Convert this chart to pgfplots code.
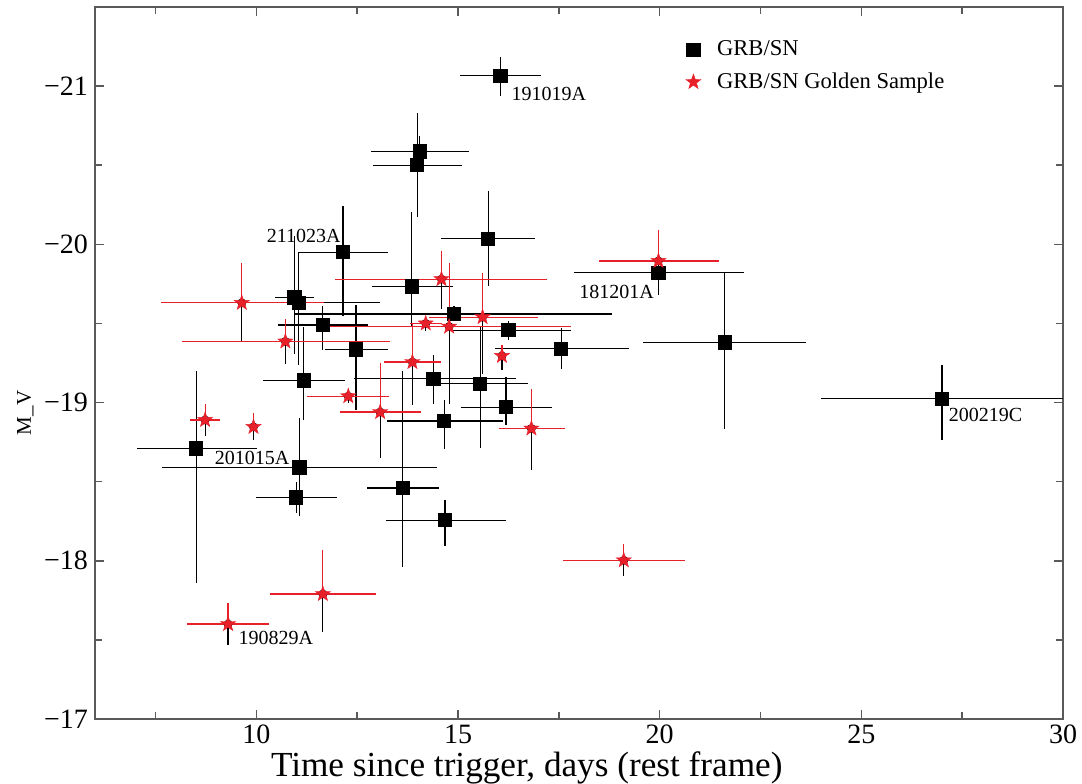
\documentclass[border=0pt]{standalone}
\usepackage{fontspec}
\setmainfont{Liberation Serif}
\usepackage{pgfplots}
\pgfplotsset{compat=1.18}
\usepackage{pgfplotstable}
\definecolor{gsred}{RGB}{232,32,42}
\definecolor{axgray}{RGB}{90,90,90}

\pgfdeclareplotmark{fstar}{%
  \pgfpathmoveto{\pgfpointpolar{90}{\pgfplotmarksize}}%
  \pgfpathlineto{\pgfpointpolar{126}{0.40\pgfplotmarksize}}%
  \pgfpathlineto{\pgfpointpolar{162}{\pgfplotmarksize}}%
  \pgfpathlineto{\pgfpointpolar{198}{0.40\pgfplotmarksize}}%
  \pgfpathlineto{\pgfpointpolar{234}{\pgfplotmarksize}}%
  \pgfpathlineto{\pgfpointpolar{270}{0.40\pgfplotmarksize}}%
  \pgfpathlineto{\pgfpointpolar{306}{\pgfplotmarksize}}%
  \pgfpathlineto{\pgfpointpolar{342}{0.40\pgfplotmarksize}}%
  \pgfpathlineto{\pgfpointpolar{18}{\pgfplotmarksize}}%
  \pgfpathlineto{\pgfpointpolar{54}{0.40\pgfplotmarksize}}%
  \pgfpathclose
  \pgfusepathqfillstroke}

% GRB/SN: x, y, x error minus/plus, y error minus (up)/plus (down)
\pgfplotstableread{
x y exm exp eym eyp
16.05 -21.065 1.00 1.02 0.12 0.13
14.05 -20.587 1.20 1.23 0.10 0.10
13.99 -20.50 1.10 1.10 0.33 0.33
15.75 -20.035 1.16 1.17 0.30 0.30
12.15 -19.95 1.08 1.11 0.29 0.40
10.945 -19.664 0.48 0.49 0.39 0.36
11.05 -19.63 2.00 2.01 0.32 0.39
11.65 -19.49 1.11 1.13 0.12 0.16
13.85 -19.734 0.97 1.02 0.47 0.25
14.90 -19.56 3.95 3.93 0.05 0.04
16.25 -19.457 1.47 1.55 0.06 0.06
12.47 -19.336 0.77 0.80 0.28 0.38
17.56 -19.34 1.65 1.68 0.13 0.13
19.97 -19.82 2.10 2.12 0.10 0.14
21.61 -19.38 2.02 2.02 0.44 0.55
11.17 -19.14 1.00 1.02 0.34 0.25
14.39 -19.15 1.97 2.05 0.15 0.16
15.55 -19.12 1.02 1.19 0.36 0.41
16.19 -18.97 1.12 1.14 0.19 0.11
14.66 -18.884 1.41 1.45 0.13 0.18
8.51 -18.71 1.48 1.51 0.49 0.85
11.07 -18.59 3.40 3.40 0.31 0.31
10.99 -18.40 1.01 1.02 0.10 0.10
13.63 -18.46 0.89 0.89 0.74 0.50
14.68 -18.256 1.47 1.51 0.13 0.16
27.00 -19.025 3.00 3.00 0.21 0.26
}\grbsn

% GRB/SN Golden Sample
\pgfplotstableread{
x y exm exp eym eyp
9.64 -19.63 2.00 2.03 0.25 0.25
10.72 -19.386 2.57 2.60 0.14 0.14
8.73 -18.89 0.37 0.37 0.10 0.10
9.93 -18.846 0.05 0.05 0.085 0.085
14.59 -19.78 2.64 2.62 0.18 0.19
14.20 -19.50 0.40 0.40 0.05 0.05
14.78 -19.48 3.02 3.02 0.40 0.49
15.61 -19.54 1.33 1.38 0.28 0.36
13.87 -19.256 0.70 0.71 0.24 0.27
16.09 -19.295 0.10 0.10 0.07 0.09
12.28 -19.04 1.02 1.01 0.04 0.04
13.07 -18.94 1.00 1.01 0.31 0.29
16.82 -18.836 0.80 0.83 0.25 0.26
19.97 -19.895 1.48 1.51 0.195 0.10
19.11 -18.003 1.50 1.53 0.10 0.10
11.65 -17.79 1.30 1.31 0.28 0.24
9.30 -17.60 1.01 1.01 0.13 0.13
}\golden

\begin{document}
\begin{tikzpicture}
\begin{axis}[
  scale only axis, width=484pt, height=356pt,
  xmin=6, xmax=30, ymin=-21.5, ymax=-17, y dir=reverse,
  xtick={10,15,20,25,30}, minor xtick={7.5,12.5,17.5,22.5,27.5},
  ytick={-21,-20,-19,-18,-17}, yticklabels={−21,−20,−19,−18,−17},
  minor ytick={-20.5,-19.5,-18.5,-17.5},
  tick align=inside, major tick length=4.5pt, minor tick length=3.5pt,
  axis line style={draw=axgray, line width=0.8pt},
  every tick/.style={axgray, line width=0.8pt},
  tick label style={font=\fontsize{14}{16}\selectfont},
  xticklabel style={inner sep=1pt, yshift=-1.8pt},
  /pgf/number format/assume math mode=true,
  xlabel={Time since trigger, days (rest frame)},
  ylabel={M\_V},
  xlabel style={font=\fontsize{17.6}{21}\selectfont, inner sep=0pt, at={(axis description cs:0.446,0)}, anchor=center, yshift=-24.3pt},
  ylabel style={font=\fontsize{10.5}{13}\selectfont, at={(axis description cs:-0.072,0.43)}, anchor=center},
  legend style={draw=none, fill=none, at={(axis cs:20.49,-21.34)}, anchor=north west,
    font=\fontsize{11.3}{13}\selectfont, row sep=3pt, column sep=6pt},
  legend cell align=left,
  clip=false,
]
\addplot[only marks, mark=square*, mark size=3.3pt, black,
  error bars/.cd, x dir=both, x explicit, y dir=both, y explicit, error mark=none,
  error bar style={line width=0.6pt, black}]
  table[x=x, y=y, x error plus=exp, x error minus=exm, y error plus=eyp, y error minus=eym]{\grbsn};
\addlegendentry{GRB/SN}
\addplot[forget plot, only marks, mark=none, black,
  error bars/.cd, y dir=plus, y explicit, error mark=none,
  error bar style={line width=0.6pt, black}]
  table[x=x, y=y, y error plus=eyp, y error minus=eym]{\golden};
\addplot[only marks, mark=fstar, mark size=4pt, gsred, mark options={fill=gsred, draw=gsred, line width=0.2pt},
  error bars/.cd, x dir=both, x explicit, y dir=minus, y explicit, error mark=none,
  error bar style={line width=0.6pt, gsred}]
  table[x=x, y=y, x error plus=exp, x error minus=exm, y error plus=eyp, y error minus=eym]{\golden};
\addlegendentry{GRB/SN Golden Sample}

\begin{scope}[font=\fontsize{10}{12}\selectfont]
\node[anchor=west, inner sep=0pt] at (axis cs:16.32,-20.95) {191019A};
\node[anchor=west, inner sep=0pt] at (axis cs:10.25,-20.054) {211023A};
\node[anchor=west, inner sep=0pt] at (axis cs:18.0,-19.70) {181201A};
\node[anchor=west, inner sep=0pt] at (axis cs:27.16,-18.92) {200219C};
\node[anchor=west, inner sep=0pt] at (axis cs:8.96,-18.65) {201015A};
\node[anchor=west, inner sep=0pt] at (axis cs:9.55,-17.51) {190829A};
\end{scope}
\coordinate (SW) at (axis cs:6,-17);
\coordinate (NE) at (axis cs:30,-21.5);
\end{axis}
\pgfresetboundingbox
\path ([shift={(-47.5pt,-32.3pt)}]SW) rectangle ([shift={(9.5pt,3.5pt)}]NE);
\end{tikzpicture}
\end{document}
